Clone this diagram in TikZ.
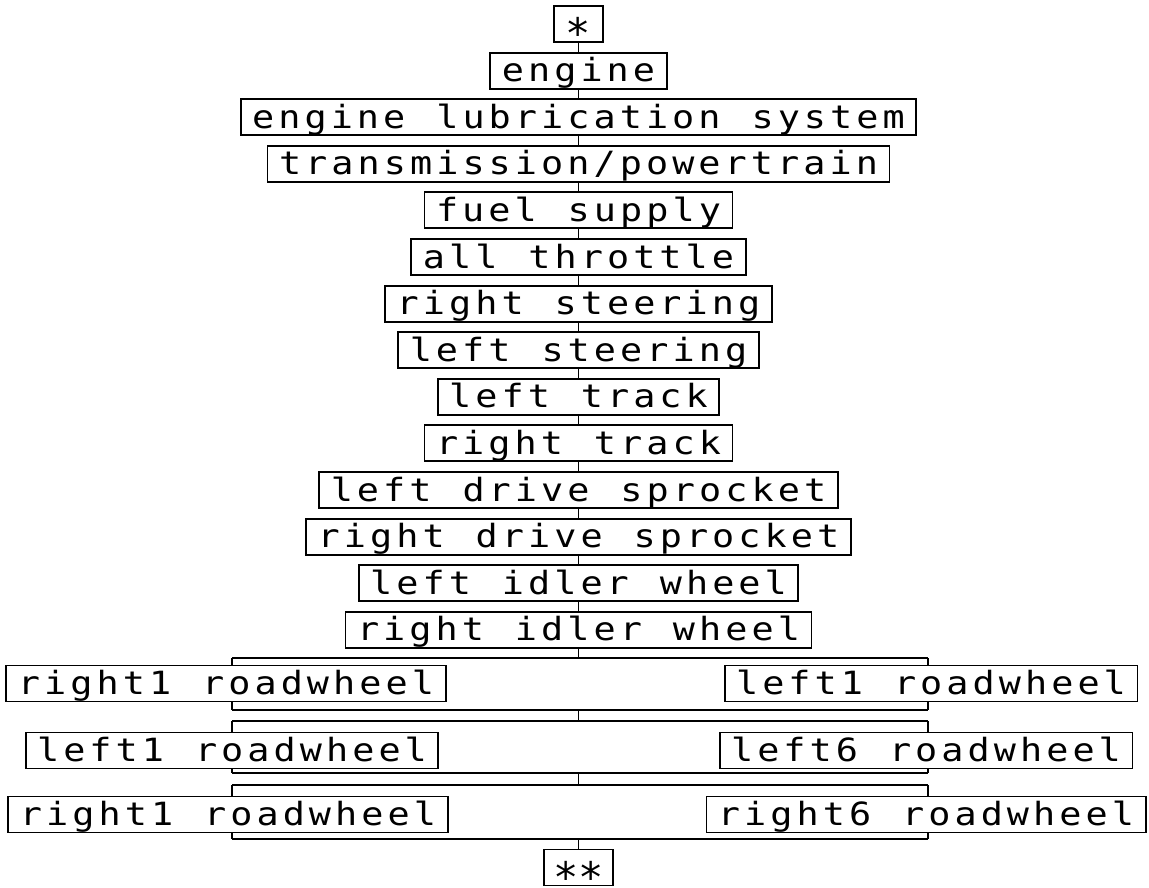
\documentclass[tikz,border=0pt]{standalone}
\usepackage{fontspec}
\newfontfamily\plotfont[FakeStretch=1.15,LetterSpace=12.7,WordSpace=1.18]{DejaVu Sans Mono}
\newfontfamily\starfont{DejaVu Sans Mono}
\begin{document}
\begin{tikzpicture}[x=1pt,y=-1pt,
  box/.style={draw,line width=1.9pt,inner xsep=11.5pt,inner ysep=0pt,
    text height=29pt,text depth=7pt,anchor=center,
    font=\plotfont\fontsize{32pt}{36pt}\selectfont},
  starbox/.style={box,font=\starfont\fontsize{42pt}{42pt}\selectfont},
  link/.style={line width=1.9pt}]
\useasboundingbox (0,0) rectangle (1149,888);
% main chain
\node[starbox] (s0) at (578.5,24) {\raisebox{-14pt}[0pt][0pt]{*}};
\node[box] (s1) at (578.5,70.6) {engine};
\node[box] (s2) at (578.5,117.2) {engine lubrication system};
\node[box] (s3) at (578.5,163.8) {transmission/powertrain};
\node[box] (s4) at (578.5,210.4) {fuel supply};
\node[box] (s5) at (578.5,257) {all throttle};
\node[box] (s6) at (578.5,303.6) {right steering};
\node[box] (s7) at (578.5,350.2) {left steering};
\node[box] (s8) at (578.5,396.8) {left track};
\node[box] (s9) at (578.5,443.4) {right track};
\node[box] (s10) at (578.5,490) {left drive sprocket};
\node[box] (s11) at (578.5,536.6) {right drive sprocket};
\node[box] (s12) at (578.5,583.2) {left idler wheel};
\node[box] (s13) at (578.5,629.8) {right idler wheel};
\foreach \a/\b in {s0/s1,s1/s2,s2/s3,s3/s4,s4/s5,s5/s6,s6/s7,s7/s8,s8/s9,s9/s10,s10/s11,s11/s12,s12/s13}
  \draw[link] (\a.south) -- (\b.north);
% parallel rows
\node[box] (a1) at (226,683.5) {right1 roadwheel};
\node[box] (a2) at (931,683.5) {left1 roadwheel};
\node[box] (b1) at (232,750.5) {left1 roadwheel};
\node[box] (b2) at (926,750.5) {left6 roadwheel};
\node[box] (c1) at (228,814.5) {right1 roadwheel};
\node[box] (c2) at (926,814.5) {right6 roadwheel};
\node[starbox,inner xsep=9.5pt] (s14) at (578.5,867.5) {\raisebox{-14pt}[0pt][0pt]{**}};
% bar coordinates
\coordinate (fA) at (578.5,658); \coordinate (fAL) at (232,658); \coordinate (fAR) at (928,658);
\coordinate (jA) at (578.5,710); \coordinate (jAL) at (232,710); \coordinate (jAR) at (928,710);
\coordinate (fB) at (578.5,721); \coordinate (fBL) at (232,721); \coordinate (fBR) at (928,721);
\coordinate (jB) at (578.5,773); \coordinate (jBL) at (232,773); \coordinate (jBR) at (928,773);
\coordinate (fC) at (578.5,785); \coordinate (fCL) at (232,785); \coordinate (fCR) at (928,785);
\coordinate (jC) at (578.5,839); \coordinate (jCL) at (232,839); \coordinate (jCR) at (928,839);
\draw[link] (s13.south) -- (fA);
\draw[link] (jA) -- (fB);
\draw[link] (jB) -- (fC);
\draw[link] (jC) -- (s14.north);
\foreach \r/\p/\q in {A/a1/a2,B/b1/b2,C/c1/c2}{
  \draw[link] (f\r L) -- (f\r R);
  \draw[link] (j\r L) -- (j\r R);
  \draw[link] (f\r L) -- (f\r L |- \p.north);
  \draw[link] (f\r R) -- (f\r R |- \q.north);
  \draw[link] (j\r L |- \p.south) -- (j\r L);
  \draw[link] (j\r R |- \q.south) -- (j\r R);
}
\end{tikzpicture}
\end{document}
